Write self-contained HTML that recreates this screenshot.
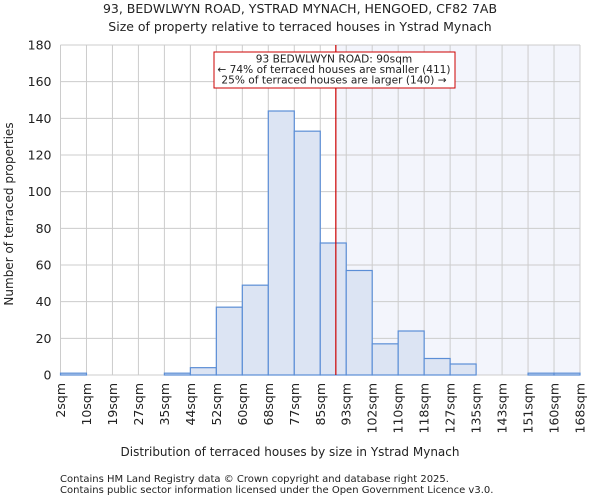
<!DOCTYPE html>
<html><head><meta charset="utf-8"><style>
body{margin:0;background:#fff;font-family:"DejaVu Sans","Liberation Sans",sans-serif;}
svg text{font-family:"DejaVu Sans","Liberation Sans",sans-serif;fill:#222;}
</style></head><body>
<svg id="chart" width="600" height="500" xmlns="http://www.w3.org/2000/svg">
<text x="300" y="13" font-size="12.5" text-anchor="middle">93, BEDWLWYN ROAD, YSTRAD MYNACH, HENGOED, CF82 7AB</text>
<text x="300" y="31" font-size="12.5" text-anchor="middle">Size of property relative to terraced houses in Ystrad Mynach</text>
<g id="plot"></g>
<text x="290" y="456" font-size="12" text-anchor="middle">Distribution of terraced houses by size in Ystrad Mynach</text>
<text transform="translate(13,214) rotate(-90)" font-size="12" text-anchor="middle">Number of terraced properties</text>
<text x="60" y="482" font-size="10">Contains HM Land Registry data © Crown copyright and database right 2025.</text>
<text x="60" y="493" font-size="10">Contains public sector information licensed under the Open Government Licence v3.0.</text>
</svg>
<script>
const tickLabels=["2sqm","10sqm","19sqm","27sqm","35sqm","44sqm","52sqm","60sqm","68sqm","77sqm","85sqm","93sqm","102sqm","110sqm","118sqm","127sqm","135sqm","143sqm","151sqm","160sqm","168sqm"];
const counts=[1,0,0,0,1,4,37,49,144,133,72,57,17,24,9,6,0,0,1,1];
const yTicks=[0,20,40,60,80,100,120,140,160,180];
const markerBin=10.6;
const NS="http://www.w3.org/2000/svg";
const L=60.5,R=580,T=45,B=375,yMax=180;
const bw=(R-L)/counts.length;
const xs=i=>L+i*bw;
const ys=v=>B-(v/yMax)*(B-T);
const g=document.getElementById('plot');
function mk(tag,attrs,parent){const e=document.createElementNS(NS,tag);for(const k in attrs)e.setAttribute(k,attrs[k]);(parent||g).appendChild(e);return e;}
const mx=xs(markerBin);
let e=mk('rect',{x:mx,y:T,width:R-mx,height:B-T,fill:'#f3f5fc'});


yTicks.forEach(v=>{
 let l=mk('line',{x1:L,x2:R,y1:ys(v),y2:ys(v),stroke:'#cccccc','stroke-width':1});
 
 
 let t=mk('text',{x:L-9,y:ys(v)+4.5,'font-size':12.5,'text-anchor':'end'});t.textContent=v;
 
 
});
tickLabels.forEach((s,i)=>{
 const x=xs(i);
 let l=mk('line',{x1:x,x2:x,y1:T,y2:B,stroke:'#cccccc','stroke-width':1});
 
 
 let t=mk('text',{transform:`translate(${x+4.5},${B+8}) rotate(-90)`,'font-size':12.5,'text-anchor':'end'});t.textContent=s;
 
 
});
counts.forEach((c,i)=>{
 if(c<=0)return;
 let r=mk('rect',{x:xs(i),y:ys(c),width:bw,height:B-ys(c),fill:'#dce4f3',stroke:'#5b8ed6','stroke-width':1.2});
 
 
});
let ln=mk('line',{x1:mx,x2:mx,y1:T,y2:B,stroke:'#cc0000','stroke-width':1.2});


let bx=mk('rect',{x:214,y:52,width:241,height:36,fill:'#fff',stroke:'#cc0000','stroke-width':1});


["93 BEDWLWYN ROAD: 90sqm","← 74% of terraced houses are smaller (411)","25% of terraced houses are larger (140) →"].forEach((s,i)=>{
 let t=mk('text',{x:334,y:62.5+i*10.5,'font-size':10.6,'text-anchor':'middle'});t.textContent=s;
 
 
});
</script>
</body></html>
